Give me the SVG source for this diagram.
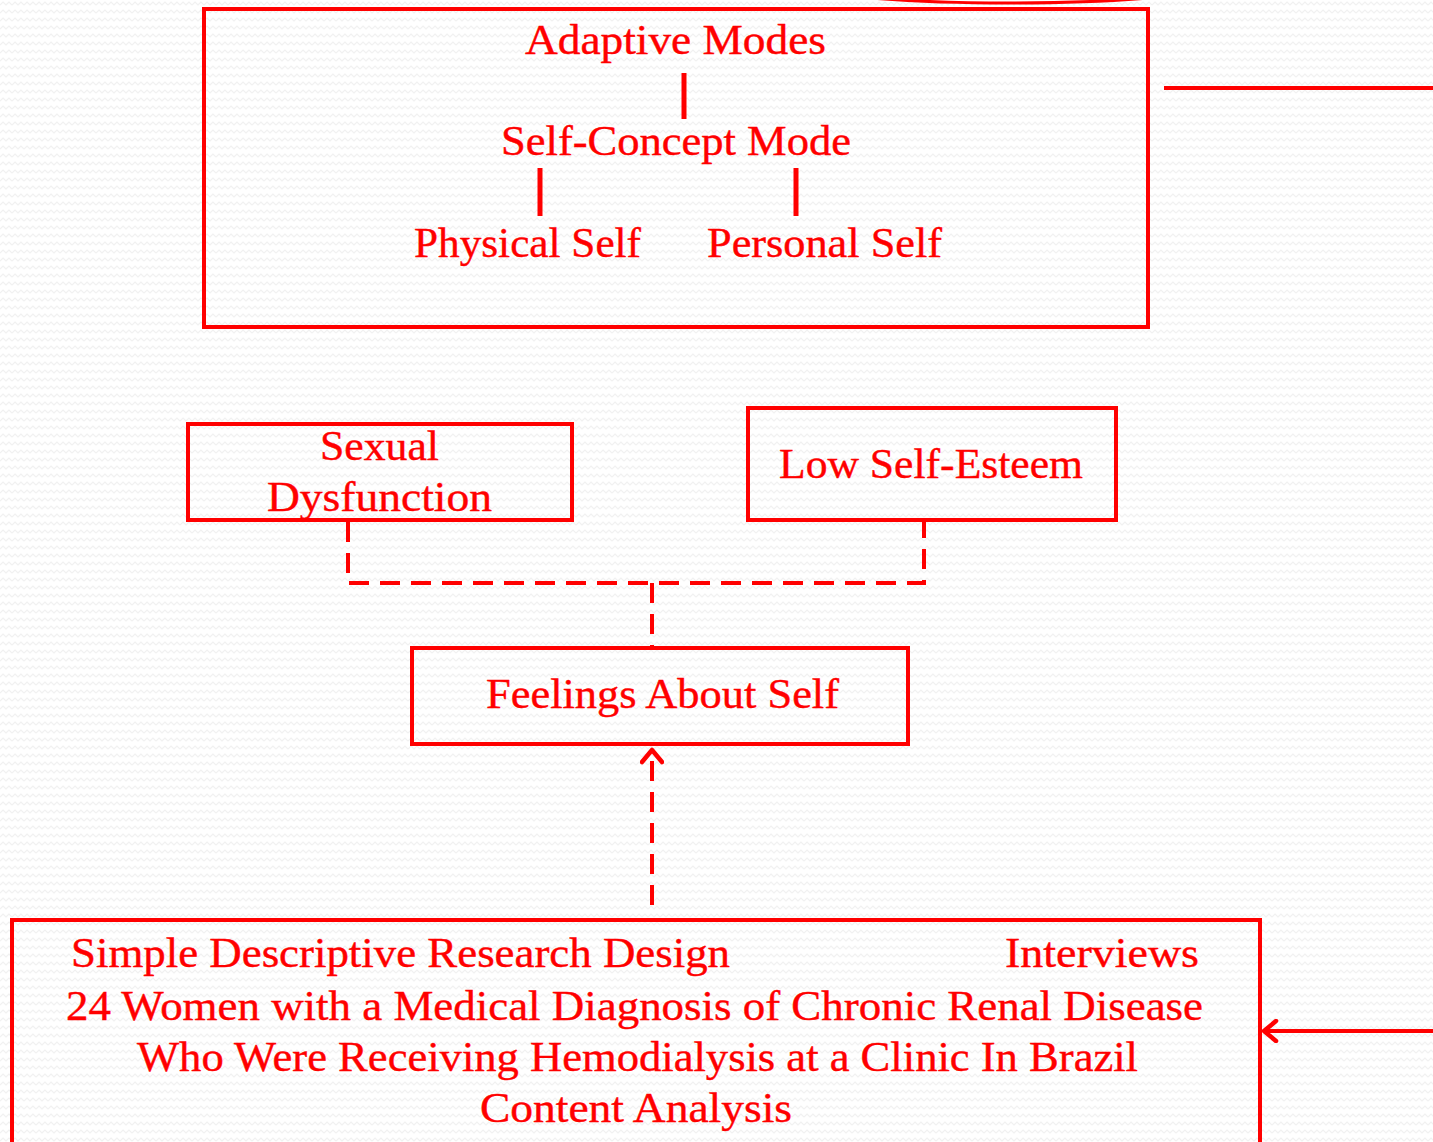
<svg xmlns="http://www.w3.org/2000/svg" width="1433" height="1142" viewBox="0 0 1433 1142">
<defs>
<pattern id="bg" width="12" height="8" patternUnits="userSpaceOnUse">
<rect width="12" height="8" fill="#ffffff"/>
<path d="M0 5 L3 2 L6 5 L9 2 L12 5" fill="none" stroke="#f1f1f1" stroke-width="1.2"/>
</pattern>
<marker id="open" viewBox="0 0 24 24" refX="19" refY="12" markerWidth="24" markerHeight="24" markerUnits="userSpaceOnUse" orient="auto">
<path d="M7 2 L19 12 L7 22" fill="none" stroke="#ff0000" stroke-width="4.5" stroke-linecap="round" stroke-linejoin="round"/>
</marker>
</defs>
<style>
.box{fill:none;stroke:#ff0000;stroke-width:4}
.ln{fill:none;stroke:#ff0000;stroke-width:4}
.tree{fill:none;stroke:#ff0000;stroke-width:5}
.dash{fill:none;stroke:#ff0000;stroke-width:4;stroke-dasharray:20 11}
.t{font-family:"Liberation Serif","Times New Roman",serif;font-size:42px;fill:#ff0000;stroke:#ff0000;stroke-width:0.4}
</style>
<rect width="1433" height="1142" fill="url(#bg)"/>
<ellipse cx="1010" cy="-27" rx="250" ry="30" fill="none" stroke="#ff0000" stroke-width="3"/>

<g id="adaptive-modes">
<rect class="box" x="204" y="9" width="944" height="318"/>
<text class="t" x="525" y="54" textLength="301" lengthAdjust="spacingAndGlyphs">Adaptive Modes</text>
<line class="tree" x1="684" y1="73" x2="684" y2="119"/>
<text class="t" x="501" y="155" textLength="350" lengthAdjust="spacingAndGlyphs">Self-Concept Mode</text>
<line class="tree" x1="540" y1="168" x2="540" y2="216"/>
<line class="tree" x1="796" y1="168" x2="796" y2="216"/>
<text class="t" x="414" y="257" textLength="227" lengthAdjust="spacingAndGlyphs">Physical Self</text>
<text class="t" x="707" y="257" textLength="235" lengthAdjust="spacingAndGlyphs">Personal Self</text>
</g>

<g id="sexual-dysfunction">
<rect class="box" x="188" y="424" width="384" height="96"/>
<text class="t" x="320" y="460" textLength="119" lengthAdjust="spacingAndGlyphs">Sexual</text>
<text class="t" x="267" y="511" textLength="225" lengthAdjust="spacingAndGlyphs">Dysfunction</text>
</g>

<g id="low-self-esteem">
<rect class="box" x="748" y="408" width="368" height="112"/>
<text class="t" x="779" y="478" textLength="304" lengthAdjust="spacingAndGlyphs">Low Self-Esteem</text>
</g>

<g id="feelings-about-self">
<rect class="box" x="412" y="648" width="496" height="96"/>
<text class="t" x="486" y="708" textLength="353" lengthAdjust="spacingAndGlyphs">Feelings About Self</text>
</g>

<g id="study">
<rect class="box" x="12" y="920" width="1248" height="240"/>
<text class="t" x="71" y="967" textLength="659" lengthAdjust="spacingAndGlyphs">Simple Descriptive Research Design</text>
<text class="t" x="1005" y="967" textLength="194" lengthAdjust="spacingAndGlyphs">Interviews</text>
<text class="t" x="66" y="1020" textLength="1137" lengthAdjust="spacingAndGlyphs">24 Women with a Medical Diagnosis of Chronic Renal Disease</text>
<text class="t" x="137" y="1071" textLength="1001" lengthAdjust="spacingAndGlyphs">Who Were Receiving Hemodialysis at a Clinic In Brazil</text>
<text class="t" x="480" y="1122" textLength="312" lengthAdjust="spacingAndGlyphs">Content Analysis</text>
</g>

<g id="connectors">
<line class="ln" x1="1164" y1="88" x2="1433" y2="88"/>
<path class="dash" d="M348 522 V583 H924 V522"/>
<line class="dash" x1="652" y1="583" x2="652" y2="646"/>
<line class="dash" x1="652" y1="905" x2="652" y2="750" marker-end="url(#open)"/>
<line class="ln" x1="1433" y1="1031" x2="1264" y2="1031" marker-end="url(#open)"/>
</g>
</svg>
